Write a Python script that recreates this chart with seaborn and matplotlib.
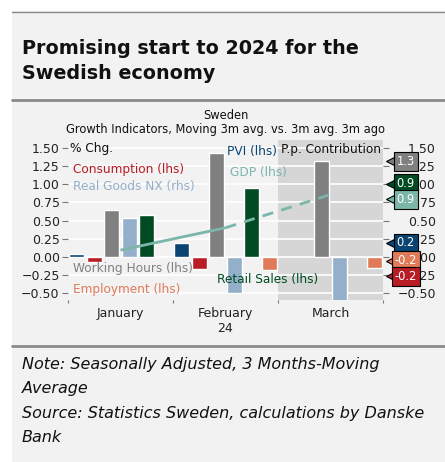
import numpy as np
import pandas as pd
import matplotlib
matplotlib.use("Agg")
import matplotlib.pyplot as plt
from matplotlib.patches import Rectangle
from matplotlib.lines import Line2D
from matplotlib.ticker import FixedLocator
import seaborn as sns

# ── Data ──────────────────────────────────────────────────────────────────────
months        = ["January", "February", "March"]
month_labels  = ["January", "February\n24", "March"]
series        = ["PVI", "Consumption", "Working Hours", "Real Goods NX",
                 "Retail Sales", "Employment"]
pvi           = [0.03, 0.19, np.nan]
consumption   = [-0.07, -0.17, np.nan]
working_hours = [0.64, 1.44, 1.32]
real_goods_nx = [0.53, -0.50, -0.70]
retail_sales  = [0.58, 0.945, np.nan]
employment    = [0.01, -0.19, -0.16]
gdp           = [0.09, 0.40, 0.86]
y_ticks       = [-0.50, -0.25, 0.00, 0.25, 0.50, 0.75, 1.00, 1.25, 1.50]

colors = {
    "PVI": "#0b4470",
    "Consumption": "#b81c24",
    "Working Hours": "#808080",
    "Real Goods NX": "#94afc9",
    "Retail Sales": "#004b23",
    "Employment": "#e07a59",
}
GDP_COLOR = "#7cb5aa"
PANEL = "#f2f2f2"
RULE = "#8a8a8a"

values = [pvi, consumption, working_hours, real_goods_nx, retail_sales, employment]
df = pd.DataFrame({
    "month": np.repeat(months, len(series)),
    "series": series * len(months),
    "value": [values[j][i] for i in range(len(months)) for j in range(len(series))],
}).dropna()

# ── Figure / panel ────────────────────────────────────────────────────────────
sns.set_style("white")
plt.rcParams["font.family"] = ["DejaVu Sans"]

W, H = 445, 462
fig = plt.figure(figsize=(W / 100, H / 100), dpi=100, facecolor="white")
fig.patches.append(Rectangle((12 / W, 0), 1, 1 - 11 / H, transform=fig.transFigure,
                             fc=PANEL, ec="none", zorder=-10))
for ypx, lw in [(11.5, 1.0), (100, 2.0), (345.5, 2.0)]:
    fig.add_artist(Line2D([12 / W, 1], [1 - ypx / H] * 2, color=RULE, lw=lw,
                          transform=fig.transFigure, zorder=-5))

fig.text(22 / W, 1 - 61 / H, "Promising start to 2024 for the\nSwedish economy",
         ha="left", va="center", fontsize=13.8, weight="semibold", color="#111111",
         linespacing=1.45)
fig.text(22 / W, 1 - 401 / H,
         "Note: Seasonally Adjusted, 3 Months-Moving\nAverage\n"
         "Source: Statistics Sweden, calculations by Danske\nBank",
         ha="left", va="center", fontsize=11.5, style="italic", color="#111111",
         linespacing=1.8)

fig.text(226 / W, 1 - 115 / H, "Sweden", ha="center", va="center", fontsize=8.3,
         color="#111111")
fig.text(226 / W, 1 - 130 / H, "Growth Indicators, Moving 3m avg. vs. 3m avg. 3m ago",
         ha="center", va="center", fontsize=8.3, color="#111111")

# ── Axes ──────────────────────────────────────────────────────────────────────
ax = fig.add_axes([68 / W, 1 - 300 / H, 315 / W, 160 / H])
ax.set_facecolor("none")
ax.axvspan(1.5, 2.5, color="#d6d6d6", zorder=0, lw=0)

sns.barplot(data=df, x="month", y="value", hue="series", order=months,
            hue_order=series, palette=colors, width=1.0, gap=0.13,
            saturation=1, errorbar=None, legend=False, ax=ax, zorder=2)

x = np.arange(len(months))
ax.plot(x[:2], gdp[:2], color=GDP_COLOR, lw=2.0, zorder=3, solid_capstyle="butt")
ax.plot(x[1:], gdp[1:], color=GDP_COLOR, lw=2.0, ls=(0, (4, 3)), zorder=3)

ax.set_xlim(-0.5, 2.5)
ax.set_ylim(-0.6, 1.615)
ax.set_yticks(y_ticks)
ax.set_yticklabels([f"{v:.2f}".replace("-", "\u2212") for v in y_ticks])
ax.set_xticks(x)
ax.set_xticklabels(month_labels)
ax.xaxis.set_minor_locator(FixedLocator([-0.5, 0.5, 1.5, 2.5]))
ax.set_xlabel("")
ax.set_ylabel("")
ax.grid(axis="y", color="white", lw=1.2)
ax.set_axisbelow(True)
for s in ax.spines.values():
    s.set_visible(False)
ax.tick_params(axis="y", length=4, width=0.8, color="#777777", labelsize=9,
               labelcolor="#222222", pad=2, left=True)
ax.tick_params(axis="x", which="major", length=0, labelsize=9,
               labelcolor="#222222", pad=5)
ax.tick_params(axis="x", which="minor", length=2, width=0.8, color="#777777",
               bottom=True)

# in-plot labels
lab = dict(fontsize=8.7, va="center", ha="left", zorder=4)
ax.text(-0.48, 1.50, "% Chg.", color="#111111", **lab)
ax.text(-0.45, 1.21, "Consumption (lhs)", color=colors["Consumption"], **lab)
ax.text(-0.45, 0.965, "Real Goods NX (rhs)", color=colors["Real Goods NX"], **lab)
ax.text(-0.45, -0.17, "Working Hours (lhs)", color=colors["Working Hours"], **lab)
ax.text(-0.45, -0.46, "Employment (lhs)", color=colors["Employment"], **lab)
ax.text(1.01, 1.45, "PVI (lhs)", color=colors["PVI"], **lab)
ax.text(1.04, 1.17, "GDP (lhs)", color=GDP_COLOR, **lab)
ax.text(0.92, -0.31, "Retail Sales (lhs)", color=colors["Retail Sales"], **lab)
ax.text(2.48, 1.49, "P.p. Contribution", color="#111111", fontsize=8.7,
        va="center", ha="right", zorder=4)

# ── Right axis + last-value tags ──────────────────────────────────────────────
ax2 = ax.twinx()
ax2.set_ylim(ax.get_ylim())
ax2.set_yticks(y_ticks)
ax2.set_yticklabels([f"{v:.2f}".replace("-", "\u2212") for v in y_ticks])
for s in ax2.spines.values():
    s.set_visible(False)
ax2.tick_params(axis="y", length=4, width=0.8, color="#777777", labelsize=9,
                labelcolor="#222222", pad=34, right=True)
for t in ax2.get_yticklabels():
    t.set_horizontalalignment("right")

tag_names = ["Working Hours", "Retail Sales", "GDP", "PVI", "Employment", "Consumption"]
tag_series = {"Working Hours": working_hours, "Retail Sales": retail_sales,
              "GDP": gdp, "PVI": pvi, "Employment": employment,
              "Consumption": consumption}
last = {k: [v for v in tag_series[k] if not np.isnan(v)][-1] for k in tag_names}
order = sorted(tag_names, key=lambda k: -last[k])
pos = [last[k] for k in order]
min_gap = 0.215
for _ in range(50):
    for i in range(len(pos) - 1):
        d = pos[i] - pos[i + 1]
        if d < min_gap:
            shift = (min_gap - d) / 2
            pos[i] += shift
            pos[i + 1] -= shift

trans = ax2.get_yaxis_transform()
for k, yv in zip(order, pos):
    c = GDP_COLOR if k == "GDP" else colors[k]
    ax2.plot([1.024], [yv], marker="<", ms=7, mfc=c, mec="black", mew=0.8,
             transform=trans, clip_on=False, zorder=6)
    ax2.text(1.072, yv, f"{last[k]:.1f}", transform=trans, ha="center", va="center",
             fontsize=8.3, color="white", zorder=7, clip_on=False,
             bbox=dict(boxstyle="square,pad=0.25", fc=c, ec="black", lw=0.8))

fig.savefig("out.png", dpi=100, facecolor="white")
